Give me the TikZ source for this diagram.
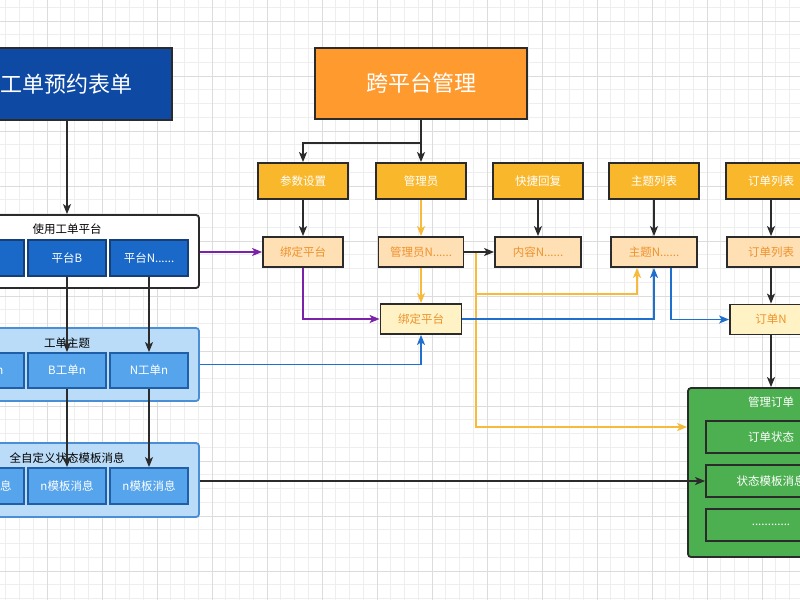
\documentclass[tikz,border=0pt]{standalone}
\usepackage{fontspec}
\setmainfont{Noto Sans CJK SC}
\usetikzlibrary{arrows.meta,calc}
\definecolor{edge}{HTML}{2B2B2B}
\definecolor{titleblue}{HTML}{0E4AA3}
\definecolor{pfill}{HTML}{1A68C7}
\definecolor{pedge}{HTML}{163F78}
\definecolor{lbfill}{HTML}{BBDCF8}
\definecolor{lbedge}{HTML}{4A8FD6}
\definecolor{gbfill}{HTML}{56A4EC}
\definecolor{gbedge}{HTML}{1F5FA8}
\definecolor{orangeT}{HTML}{FF9A2E}
\definecolor{yfill}{HTML}{F9B82C}
\definecolor{lofill}{HTML}{FFE0B5}
\definecolor{lyfill}{HTML}{FFF3C6}
\definecolor{otext}{HTML}{EE922C}
\definecolor{green}{HTML}{4CAF50}
\definecolor{purp}{HTML}{7B22A8}
\definecolor{ylw}{HTML}{F7BA3A}
\definecolor{blu}{HTML}{1F6FCF}
\definecolor{gminor}{HTML}{EEEEEE}
\definecolor{gmajor}{HTML}{DCDCDC}
\begin{document}
\begin{tikzpicture}[x=1pt,y=-1pt,
  box/.style={draw=edge, line width=1.8pt, inner sep=0pt, align=center},
  small/.style={font=\fontsize{11.5}{13}\selectfont},
  bigbox/.style={box, text=white, font=\fontsize{22}{26}\selectfont},
  ybox/.style={box, small, fill=yfill, text=white, minimum width=90pt, minimum height=36pt},
  lbox/.style={box, small, fill=lofill, text=otext, minimum height=30pt},
  l3box/.style={box, small, fill=lyfill, text=otext, minimum height=30pt},
  pbox/.style={box, small, fill=pfill, draw=pedge, text=white, minimum width=78pt, minimum height=36pt},
  gbox/.style={box, small, fill=gbfill, draw=gbedge, text=white, minimum width=78pt, minimum height=35pt},
  contw/.style={box, fill=white, rounded corners=3pt},
  contb/.style={box, fill=lbfill, draw=lbedge, rounded corners=3pt},
  contg/.style={box, fill=green, rounded corners=3pt},
  grbox/.style={box, small, fill=green, text=white, minimum width=130pt, minimum height=32pt},
  ctitle/.style={small, inner sep=0pt},
  arr/.style={-{Stealth[length=10pt,width=8pt,inset=2.5pt]}, line width=1.6pt},
  ln/.style={line width=1.6pt}
]
\useasboundingbox (0,0) rectangle (800,600);
\clip (0,0) rectangle (800,600);
\fill[white] (0,0) rectangle (800,600);
% grid
\foreach \k in {-4,...,56} {
  \draw[gminor, line width=0.6pt] ({47+13.75*\k},0) -- ({47+13.75*\k},600);
}
\foreach \k in {-2,...,42} {
  \draw[gminor, line width=0.6pt] (0,{21+13.75*\k}) -- (800,{21+13.75*\k});
}
\foreach \k in {-1,...,14} {
  \draw[gmajor, line width=0.8pt] ({47+55*\k},0) -- ({47+55*\k},600);
}
\foreach \k in {-1,...,11} {
  \draw[gmajor, line width=0.8pt] (0,{21+55*\k}) -- (800,{21+55*\k});
}

% ---------- left side ----------
\node[bigbox, fill=titleblue, minimum width=210pt, minimum height=72pt] (t1) at (67,84) {工单预约表单};

\node[contw, minimum width=264pt, minimum height=73pt] (c1) at (67,251.5) {};
\node[ctitle] (c1t) at (67,229) {使用工单平台};
\node[pbox] (pA) at (-15,258) {平台A};
\node[pbox] (pB) at (67,258) {平台B};
\node[pbox] (pN) at (149,258) {平台N......};

\node[contb, minimum width=264pt, minimum height=73pt] (c2) at (67,364.5) {};
\node[ctitle] (c2t) at (67,343) {工单主题};
\node[gbox] (gA) at (-15,370.5) {A工单n};
\node[gbox] (gB) at (67,370.5) {B工单n};
\node[gbox] (gN) at (149,370.5) {N工单n};

\node[contb, minimum width=264pt, minimum height=74pt] (c3) at (67,480) {};
\node[ctitle] (c3t) at (67,458) {全自定义状态模板消息};
\node[gbox, minimum height=36pt] (mA) at (-15,486) {n模板消息};
\node[gbox, minimum height=36pt] (mB) at (67,486) {n模板消息};
\node[gbox, minimum height=36pt] (mN) at (149,486) {n模板消息};

\draw[arr, edge] (t1.south) -- (c1.north);
\draw[arr, edge] (pB.south) -- (gB.north);
\draw[arr, edge] (pN.south) -- (gN.north);
\draw[arr, edge] (gB.south) -- (mB.north);
\draw[arr, edge] (gN.south) -- (mN.north);

% ---------- right side ----------
\node[bigbox, fill=orangeT, minimum width=212pt, minimum height=71pt] (k) at (421,83.5) {跨平台管理};

\node[ybox] (y1) at (303,181) {参数设置};
\node[ybox] (y2) at (421,181) {管理员};
\node[ybox] (y3) at (538,181) {快捷回复};
\node[ybox] (y4) at (654,181) {主题列表};
\node[ybox] (y5) at (771,181) {订单列表};

\node[lbox, minimum width=80pt] (a1) at (303,252) {绑定平台};
\node[lbox, minimum width=85pt] (a2) at (421,252) {管理员N......};
\node[lbox, minimum width=86pt] (a3) at (538,252) {内容N......};
\node[lbox, minimum width=86pt] (a4) at (654,252) {主题N......};
\node[lbox, minimum width=88pt] (a5) at (771,252) {订单列表};

\node[l3box, minimum width=81pt] (b3) at (421,319) {绑定平台};
\node[l3box, minimum width=82pt] (b5) at (771,319.5) {订单N};

\node[contg, minimum width=166pt, minimum height=169pt] (gm) at (771,472.5) {};
\node[ctitle, text=white] (gmt) at (771,402) {管理订单};
\node[grbox] (s1) at (771,437) {订单状态};
\node[grbox] (s2) at (771,481) {状态模板消息};
\node[grbox] (s3) at (771,525) {............};

% connectors
\draw[arr, edge] (k.south) -- ++(0,23) -| (y1.north);
\draw[arr, edge] (k.south) -- (y2.north);
\draw[arr, edge] (y1.south) -- (a1.north);
\draw[arr, ylw] (y2.south) -- (a2.north);
\draw[arr, ylw] (a2.south) -- (b3.north);
\draw[arr, edge] (y3.south) -- (a3.north);
\draw[arr, edge] (y4.south) -- (a4.north);
\draw[arr, edge] (y5.south) -- (a5.north);
\draw[arr, edge] (a5.south) -- (b5.north);
\draw[arr, edge] (b5.south) -- (b5.south |- gm.north);

\coordinate (yj) at (476,252);
\draw[ln, ylw] (a2.east) -- (yj);
\draw[arr, ylw] (yj) -- (yj |- 0,294) -| ([xshift=-17pt]a4.south);
\draw[arr, ylw] (yj) -- (yj |- 0,427) -- (gm.west |- 0,427);
\draw[arr, edge] (a2.east) -- (a3.west);

\draw[arr, purp] (a1.south) |- (b3.west);
\draw[arr, purp] (c1.east |- a1.west) -- (a1.west);

\draw[arr, blu] (b3.east) -| (a4.south);
\draw[arr, blu] ([xshift=17pt]a4.south) |- (b5.west);
\draw[arr, blu] (c2.east) -| (b3.south);

\draw[arr, edge] (c3.east |- s2.west) -- (s2.west);
\end{tikzpicture}
\end{document}
